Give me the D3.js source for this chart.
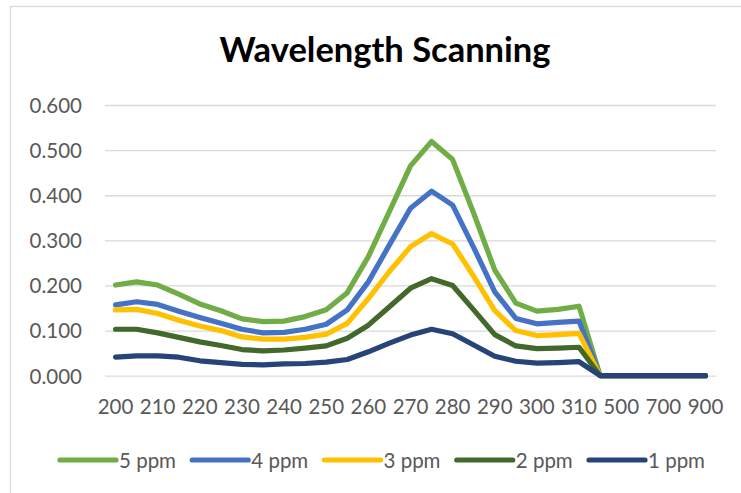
<!DOCTYPE html>
<html>
<head>
<meta charset="utf-8">
<script src="https://cdn.jsdelivr.net/npm/d3@7"></script>
<style>
  html, body { margin: 0; padding: 0; background: #fff; }
  svg { display: block; }
  text { font-family: Lato, "Liberation Sans", Arial, sans-serif; }
</style>
</head>
<body>
<svg id="chart" width="741" height="493"></svg>
<script>
// ---------------- data ----------------
const categories = ["200","205","210","215","220","225","230","235","240","245","250","255","260","265","270","275","280","285","290","295","300","305","310","400","500","600","700","800","900"];
const tickLabels = ["200","210","220","230","240","250","260","270","280","290","300","310","500","700","900"];
const yTicks = [0, 0.1, 0.2, 0.3, 0.4, 0.5, 0.6];

const ppm5 = [0.201,0.208,0.201,0.181,0.159,0.144,0.126,0.120,0.121,0.131,0.146,0.184,0.264,0.364,0.465,0.519,0.479,0.360,0.234,0.161,0.143,0.147,0.154,0,0,0,0,0,0];
const ppm4 = [0.157,0.164,0.158,0.143,0.129,0.116,0.103,0.095,0.096,0.103,0.114,0.146,0.208,0.290,0.371,0.409,0.378,0.284,0.186,0.127,0.115,0.118,0.121,0,0,0,0,0,0];
const ppm3 = [0.146,0.147,0.138,0.123,0.110,0.100,0.086,0.081,0.081,0.085,0.092,0.116,0.171,0.231,0.286,0.315,0.292,0.220,0.144,0.100,0.089,0.091,0.094,0,0,0,0,0,0];
const ppm2 = [0.103,0.103,0.095,0.085,0.075,0.067,0.058,0.055,0.057,0.061,0.066,0.083,0.112,0.153,0.194,0.215,0.200,0.146,0.091,0.066,0.060,0.061,0.063,0,0,0,0,0,0];
const ppm1 = [0.041,0.044,0.044,0.041,0.033,0.029,0.025,0.024,0.026,0.027,0.030,0.036,0.053,0.072,0.090,0.103,0.093,0.068,0.043,0.032,0.028,0.029,0.031,0,0,0,0,0,0];

const seriesNames = ["5 ppm","4 ppm","3 ppm","2 ppm","1 ppm"];
const seriesValues = [ppm5, ppm4, ppm3, ppm2, ppm1];
const seriesColors = ["#70AD47","#4472C4","#FFC000","#43682B","#264478"];

// ---------------- layout ----------------
const svg = d3.select("#chart");
const plot = { left: 105, right: 716, top: 105, bottom: 375.7 };
const textColor = "#595959";
const gridColor = "#D9D9D9";
const fs = 20.5;

// chart border
svg.append("rect")
  .attr("x", 10.5).attr("y", 6.5)
  .attr("width", 800).attr("height", 600)
  .attr("fill", "#fff").attr("stroke", gridColor).attr("stroke-width", 1.3);

// title
svg.append("text")
  .attr("x", 385).attr("y", 62)
  .attr("text-anchor", "middle")
  .attr("font-size", 34.5).attr("font-weight", "bold")
  .attr("fill", "#000")
  .text("Wavelength Scanning");

const x = d3.scaleBand().domain(categories).range([plot.left, plot.right]).padding(0);
const y = d3.scaleLinear().domain([0, 0.6]).range([plot.bottom, plot.top]);
const cx = c => x(c) + x.bandwidth() / 2;

// y axis + gridlines
const yAxis = d3.axisLeft(y)
  .tickValues(yTicks)
  .tickFormat(d3.format(".3f"))
  .tickSize(-(plot.right - plot.left))
  .tickPadding(23);
const gy = svg.append("g").attr("transform", `translate(${plot.left},0)`).call(yAxis);
gy.select(".domain").remove();
gy.selectAll(".tick line").attr("stroke", gridColor).attr("stroke-width", 1.3);
gy.selectAll(".tick text")
  .attr("fill", textColor).attr("font-size", fs)
  .attr("dy", "0.36em");

// x axis labels
const xAxis = d3.axisBottom(x)
  .tickValues(tickLabels)
  .tickSize(0)
  .tickPadding(24);
const gx = svg.append("g").attr("transform", `translate(0,${plot.bottom})`).call(xAxis);
gx.select(".domain").remove();
gx.selectAll(".tick text")
  .attr("fill", textColor).attr("font-size", fs)
  .attr("dy", "0.71em");
gx.selectAll(".tick text").attr("y", 24);

// lines
const line = d3.line()
  .x((d, i) => cx(categories[i]))
  .y(d => y(d));

seriesValues.forEach((vals, k) => {
  svg.append("path")
    .datum(vals)
    .attr("d", line)
    .attr("fill", "none")
    .attr("stroke", seriesColors[k])
    .attr("stroke-width", 5.2)
    .attr("stroke-linejoin", "round")
    .attr("stroke-linecap", "round");
});

// legend
const legendY = 460;
const legendX0 = 60, legendStep = 132.25, legendLen = 56;
const lg = svg.append("g");
seriesNames.forEach((name, k) => {
  const lx = legendX0 + k * legendStep;
  lg.append("line")
    .attr("x1", lx).attr("x2", lx + legendLen)
    .attr("y1", legendY).attr("y2", legendY)
    .attr("stroke", seriesColors[k]).attr("stroke-width", 5.2)
    .attr("stroke-linecap", "round");
  lg.append("text")
    .attr("x", lx + legendLen + 3).attr("y", legendY + 7.5)
    .attr("font-size", fs).attr("fill", textColor)
    .text(name);
});
</script>
</body>
</html>
